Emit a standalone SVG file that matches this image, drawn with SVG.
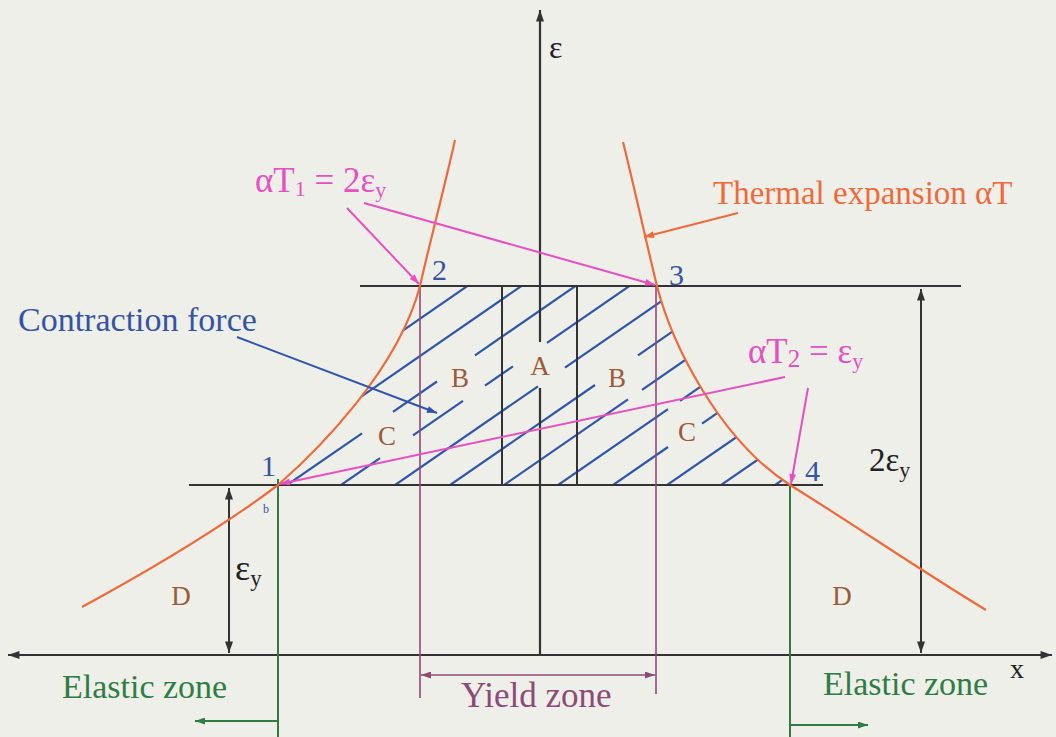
<svg xmlns="http://www.w3.org/2000/svg" width="1056" height="737" viewBox="0 0 1056 737">
<style>
text{font-family:"Liberation Serif","Times New Roman",serif}
.ax{stroke:#333;stroke-width:2.2;fill:none}
.blk{stroke:#333;stroke-width:2;fill:none}
.or{stroke:#ef6a3a;stroke-width:2.2;fill:none}
.pk{stroke:#e650c0;stroke-width:2;fill:none}
.bl{stroke:#2f55a8;stroke-width:2;fill:none}
.gr{stroke:#2f7d45;stroke-width:2;fill:none}
.pu{stroke:#8c4a78;stroke-width:1.6;fill:none}
.hatch line{stroke:#2f55a8;stroke-width:2.2}
.lab{fill:#9b5a38;font-size:27px;text-anchor:middle}
.num{fill:#3454a4;font-size:30px}
</style>
<defs>
<marker id="mk" viewBox="0 0 10 7" refX="10" refY="3.5" markerWidth="12" markerHeight="8" markerUnits="userSpaceOnUse" orient="auto-start-reverse"><path d="M0,0L10,3.5L0,7z" fill="#333"/></marker>
<marker id="mp" viewBox="0 0 10 7" refX="10" refY="3.5" markerWidth="11" markerHeight="7" markerUnits="userSpaceOnUse" orient="auto"><path d="M0,0L10,3.5L0,7z" fill="#e650c0"/></marker>
<marker id="mb" viewBox="0 0 10 7" refX="10" refY="3.5" markerWidth="11" markerHeight="7" markerUnits="userSpaceOnUse" orient="auto"><path d="M0,0L10,3.5L0,7z" fill="#2f55a8"/></marker>
<marker id="mo" viewBox="0 0 10 7" refX="10" refY="3.5" markerWidth="11" markerHeight="7" markerUnits="userSpaceOnUse" orient="auto"><path d="M0,0L10,3.5L0,7z" fill="#ef6a3a"/></marker>
<marker id="mg" viewBox="0 0 10 7" refX="10" refY="3.5" markerWidth="11" markerHeight="7" markerUnits="userSpaceOnUse" orient="auto"><path d="M0,0L10,3.5L0,7z" fill="#2f7d45"/></marker>
<marker id="mu" viewBox="0 0 10 7" refX="10" refY="3.5" markerWidth="10" markerHeight="7" markerUnits="userSpaceOnUse" orient="auto-start-reverse"><path d="M0,0L10,3.5L0,7z" fill="#8c4a78"/></marker>
<clipPath id="reg"><path d="M278,485 C318,450 398,370 420,286 L657,286 C672,345 720,440 790,485 Z"/></clipPath>
</defs>
<rect width="1056" height="737" fill="#efefea"/>

<g id="hatching" class="hatch" clip-path="url(#reg)">
<line x1="380" y1="346.3" x2="480" y2="277.3"/>
<line x1="350" y1="404.3" x2="540" y2="273.2"/>
<line x1="280" y1="489.8" x2="362" y2="433.3"/>
<line x1="393" y1="411.9" x2="437" y2="381.5"/>
<line x1="475" y1="355.3" x2="590" y2="276"/>
<line x1="335" y1="489.1" x2="380" y2="458.1"/>
<line x1="413" y1="435.3" x2="463" y2="400.8"/>
<line x1="485" y1="385.6" x2="513" y2="366.3"/>
<line x1="547" y1="342.9" x2="650" y2="271.8"/>
<line x1="390" y1="488.5" x2="538" y2="386.3"/>
<line x1="565" y1="367.7" x2="720" y2="260.8"/>
<line x1="445" y1="488.5" x2="595" y2="385"/>
<line x1="638" y1="355.3" x2="720" y2="298.7"/>
<line x1="500" y1="487.8" x2="628" y2="399.4"/>
<line x1="642" y1="389.8" x2="720" y2="336"/>
<line x1="553" y1="488.5" x2="668" y2="409.1"/>
<line x1="680" y1="400.8" x2="740" y2="359.4"/>
<line x1="608" y1="488.5" x2="668" y2="447"/>
<line x1="702" y1="423.6" x2="760" y2="383.6"/>
<line x1="662" y1="488.5" x2="770" y2="414"/>
<line x1="716" y1="488.5" x2="790" y2="437.4"/>
<line x1="770" y1="488.5" x2="820" y2="454"/>
</g>

<g id="connectors">
<line class="ax" x1="540" y1="655" x2="540" y2="388"/>
<line class="ax" x1="540" y1="342" x2="540" y2="10" marker-end="url(#mk)"/>
<line class="ax" x1="540" y1="655" x2="8" y2="655" marker-end="url(#mk)"/>
<line class="ax" x1="540" y1="655" x2="1052" y2="655" marker-end="url(#mk)"/>
<line class="blk" x1="360" y1="286" x2="961" y2="286"/>
<line class="blk" x1="189" y1="485" x2="823" y2="485"/>
<line class="blk" x1="502" y1="286" x2="502" y2="485"/>
<line class="blk" x1="577" y1="286" x2="577" y2="485"/>
<line class="blk" x1="229" y1="488" x2="229" y2="653" marker-start="url(#mk)" marker-end="url(#mk)"/>
<line class="blk" x1="921" y1="289" x2="921" y2="653" marker-start="url(#mk)" marker-end="url(#mk)"/>
<line class="pu" x1="420" y1="286" x2="420" y2="698"/>
<line class="pu" x1="656" y1="286" x2="656" y2="694"/>
<line class="pu" x1="421" y1="675" x2="655" y2="675" marker-start="url(#mu)" marker-end="url(#mu)"/>
<line class="gr" x1="278" y1="479" x2="278" y2="737"/>
<line class="gr" x1="790" y1="485" x2="790" y2="737"/>
<line class="gr" x1="278" y1="721" x2="195" y2="721" marker-end="url(#mg)"/>
<line class="gr" x1="790" y1="725" x2="868" y2="725" marker-end="url(#mg)"/>
<path class="or" d="M82,607 C150,570 225,525 278,485 C318,450 398,370 420,286 C428,250 445,185 455,140"/>
<path class="or" d="M623,142 C635,190 648,250 657,286 C672,345 720,440 790,485 C850,522 920,570 986,610"/>
<line class="or" x1="738" y1="213" x2="644" y2="237" marker-end="url(#mo)"/>
<line class="pk" x1="347" y1="208" x2="419" y2="284" marker-end="url(#mp)"/>
<line class="pk" x1="364" y1="203" x2="655" y2="285" marker-end="url(#mp)"/>
<line class="pk" x1="785" y1="377" x2="280" y2="484" marker-end="url(#mp)"/>
<line class="pk" x1="808" y1="388" x2="791" y2="484" marker-end="url(#mp)"/>
<line class="bl" x1="237" y1="337" x2="437" y2="413" marker-end="url(#mb)"/>
</g>

<g id="axis-labels">
<text x="549" y="58" font-size="32" fill="#222">ε</text>
<text x="1010" y="678" font-size="28" fill="#222">x</text>
<text x="235" y="580" font-size="36" fill="#222">ε<tspan font-size="23" dy="6">y</tspan></text>
<text x="869" y="471" font-size="33" fill="#222">2ε<tspan font-size="22" dy="6">y</tspan></text>
</g>

<g id="point-labels">
<text class="num" x="261" y="476">1</text>
<text class="num" x="432" y="280">2</text>
<text class="num" x="669" y="285">3</text>
<text class="num" x="805" y="481">4</text>
<text x="263" y="513" font-size="12" fill="#3454a4">b</text>
</g>

<g id="region-labels">
<text class="lab" x="460" y="387">B</text>
<text class="lab" x="540" y="375">A</text>
<text class="lab" x="617" y="387">B</text>
<text class="lab" x="387" y="445">C</text>
<text class="lab" x="687" y="441">C</text>
<text class="lab" x="181" y="605">D</text>
<text class="lab" x="842" y="605">D</text>
</g>

<g id="annotations">
<text x="255" y="192" font-size="35" fill="#e650c0">αT<tspan font-size="22" dy="4">1</tspan><tspan dy="-4"> = 2ε</tspan><tspan font-size="22" dy="5">y</tspan></text>
<text x="748" y="363" font-size="35" fill="#e650c0">αT<tspan font-size="25" dy="4">2</tspan><tspan dy="-4"> = ε</tspan><tspan font-size="22" dy="5">y</tspan></text>
<text x="713" y="204" font-size="33" fill="#ef6a3a">Thermal expansion αT</text>
<text x="18" y="331" font-size="34" fill="#3454a4">Contraction force</text>
<text x="62" y="698" font-size="34" fill="#2f7d45">Elastic zone</text>
<text x="823" y="695" font-size="34" fill="#2f7d45">Elastic zone</text>
<text x="461" y="707" font-size="35" fill="#8c4a78">Yield zone</text>
</g>
</svg>
